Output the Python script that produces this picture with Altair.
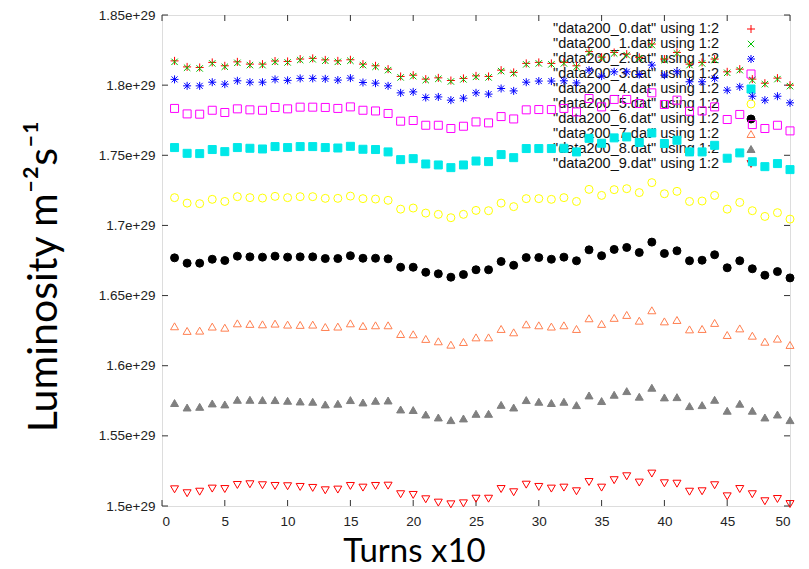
import altair as alt
import pandas as pd

TURNS = list(range(1, 51))

SERIES = ['"data200_0.dat" using 1:2', '"data200_1.dat" using 1:2', '"data200_2.dat" using 1:2',
          '"data200_3.dat" using 1:2', '"data200_4.dat" using 1:2', '"data200_5.dat" using 1:2',
          '"data200_6.dat" using 1:2', '"data200_7.dat" using 1:2', '"data200_8.dat" using 1:2',
          '"data200_9.dat" using 1:2']

# luminosity values in units of 1e29
S0 = [1.8173, 1.8130, 1.8126, 1.8162, 1.8138, 1.8166, 1.8150, 1.8150, 1.8172, 1.8169,
      1.8186, 1.8191, 1.8180, 1.8173, 1.8181, 1.8150, 1.8138, 1.8114, 1.8062, 1.8071,
      1.8043, 1.8052, 1.8033, 1.8048, 1.8066, 1.8062, 1.8107, 1.8091, 1.8155, 1.8162,
      1.8155, 1.8162, 1.8138, 1.8239, 1.8200, 1.8233, 1.8221, 1.8198, 1.8293, 1.8186,
      1.8233, 1.8150, 1.8162, 1.8186, 1.8095, 1.8114, 1.8043, 1.8014, 1.8050, 1.8000]
S1 = [1.8166, 1.8124, 1.8119, 1.8155, 1.8131, 1.8159, 1.8143, 1.8143, 1.8166, 1.8162,
      1.8179, 1.8184, 1.8174, 1.8166, 1.8174, 1.8143, 1.8131, 1.8107, 1.8055, 1.8064,
      1.8036, 1.8045, 1.8026, 1.8041, 1.8059, 1.8055, 1.8100, 1.8084, 1.8148, 1.8155,
      1.8148, 1.8155, 1.8131, 1.8232, 1.8193, 1.8226, 1.8214, 1.8191, 1.8286, 1.8179,
      1.8226, 1.8143, 1.8155, 1.8179, 1.8088, 1.8107, 1.8036, 1.8007, 1.8043, 1.7993]
S2 = [1.8041, 1.7995, 1.7995, 1.8021, 1.8007, 1.8031, 1.8021, 1.8021, 1.8041, 1.8034,
      1.8048, 1.8048, 1.8045, 1.8036, 1.8050, 1.8019, 1.8014, 1.7995, 1.7945, 1.7952,
      1.7912, 1.7916, 1.7893, 1.7907, 1.7945, 1.7936, 1.7976, 1.7959, 1.8021, 1.8029,
      1.8029, 1.8031, 1.8016, 1.8107, 1.8064, 1.8095, 1.8095, 1.8076, 1.8143, 1.8071,
      1.8095, 1.8024, 1.8024, 1.8048, 1.7964, 1.7988, 1.7921, 1.7893, 1.7921, 1.7874]
S3 = [1.7834, 1.7795, 1.7793, 1.7821, 1.7805, 1.7831, 1.7824, 1.7821, 1.7841, 1.7831,
      1.7843, 1.7843, 1.7841, 1.7834, 1.7845, 1.7821, 1.7816, 1.7798, 1.7743, 1.7748,
      1.7714, 1.7714, 1.7691, 1.7707, 1.7738, 1.7731, 1.7776, 1.7759, 1.7824, 1.7826,
      1.7826, 1.7834, 1.7809, 1.7905, 1.7845, 1.7898, 1.7898, 1.7869, 1.7945, 1.7862,
      1.7893, 1.7814, 1.7816, 1.7845, 1.7755, 1.7791, 1.7719, 1.7691, 1.7714, 1.7674]
S4 = [1.7555, 1.7514, 1.7512, 1.7541, 1.7526, 1.7555, 1.7550, 1.7545, 1.7562, 1.7555,
      1.7562, 1.7562, 1.7555, 1.7552, 1.7564, 1.7543, 1.7541, 1.7524, 1.7469, 1.7476,
      1.7438, 1.7431, 1.7412, 1.7431, 1.7459, 1.7455, 1.7505, 1.7483, 1.7548, 1.7548,
      1.7548, 1.7550, 1.7524, 1.7621, 1.7586, 1.7624, 1.7631, 1.7591, 1.7659, 1.7584,
      1.7607, 1.7524, 1.7524, 1.7571, 1.7479, 1.7517, 1.7454, 1.7419, 1.7441, 1.7398]
S5 = [1.7198, 1.7159, 1.7155, 1.7186, 1.7171, 1.7205, 1.7198, 1.7195, 1.7207, 1.7198,
      1.7205, 1.7205, 1.7193, 1.7193, 1.7209, 1.7191, 1.7188, 1.7179, 1.7116, 1.7124,
      1.7088, 1.7079, 1.7055, 1.7079, 1.7107, 1.7105, 1.7159, 1.7134, 1.7191, 1.7191,
      1.7186, 1.7198, 1.7171, 1.7257, 1.7214, 1.7255, 1.7262, 1.7234, 1.7305, 1.7226,
      1.7243, 1.7171, 1.7174, 1.7214, 1.7116, 1.7164, 1.7105, 1.7064, 1.7091, 1.7045]
S6 = [1.6769, 1.6731, 1.6731, 1.6759, 1.6750, 1.6781, 1.6776, 1.6774, 1.6781, 1.6774,
      1.6776, 1.6776, 1.6764, 1.6764, 1.6784, 1.6766, 1.6766, 1.6762, 1.6702, 1.6702,
      1.6666, 1.6655, 1.6631, 1.6650, 1.6684, 1.6684, 1.6743, 1.6716, 1.6771, 1.6771,
      1.6759, 1.6774, 1.6748, 1.6826, 1.6784, 1.6829, 1.6843, 1.6807, 1.6881, 1.6800,
      1.6819, 1.6748, 1.6752, 1.6791, 1.6698, 1.6748, 1.6691, 1.6645, 1.6671, 1.6626]
S7 = [1.6281, 1.6248, 1.6250, 1.6279, 1.6271, 1.6302, 1.6298, 1.6295, 1.6300, 1.6293,
      1.6291, 1.6293, 1.6276, 1.6279, 1.6302, 1.6284, 1.6288, 1.6288, 1.6226, 1.6224,
      1.6191, 1.6174, 1.6150, 1.6169, 1.6202, 1.6202, 1.6262, 1.6238, 1.6295, 1.6288,
      1.6279, 1.6288, 1.6262, 1.6338, 1.6298, 1.6341, 1.6362, 1.6321, 1.6395, 1.6316,
      1.6326, 1.6259, 1.6262, 1.6305, 1.6219, 1.6266, 1.6214, 1.6171, 1.6193, 1.6148]
S8 = [1.5734, 1.5702, 1.5707, 1.5731, 1.5724, 1.5757, 1.5757, 1.5755, 1.5755, 1.5750,
      1.5745, 1.5743, 1.5724, 1.5729, 1.5755, 1.5738, 1.5750, 1.5752, 1.5688, 1.5684,
      1.5652, 1.5631, 1.5612, 1.5624, 1.5657, 1.5657, 1.5721, 1.5702, 1.5755, 1.5743,
      1.5734, 1.5743, 1.5719, 1.5788, 1.5748, 1.5793, 1.5819, 1.5779, 1.5843, 1.5774,
      1.5776, 1.5712, 1.5719, 1.5757, 1.5679, 1.5729, 1.5679, 1.5631, 1.5652, 1.5612]
S9 = [1.5119, 1.5091, 1.5102, 1.5124, 1.5121, 1.5150, 1.5155, 1.5148, 1.5143, 1.5141,
      1.5136, 1.5129, 1.5112, 1.5117, 1.5143, 1.5131, 1.5143, 1.5145, 1.5084, 1.5079,
      1.5048, 1.5024, 1.5012, 1.5019, 1.5052, 1.5052, 1.5121, 1.5098, 1.5152, 1.5136,
      1.5124, 1.5131, 1.5105, 1.5171, 1.5131, 1.5184, 1.5212, 1.5167, 1.5231, 1.5162,
      1.5159, 1.5102, 1.5105, 1.5148, 1.5069, 1.5121, 1.5084, 1.5034, 1.5050, 1.5014]

X_TICKS = [0, 5, 10, 15, 20, 25, 30, 35, 40, 45, 50]
Y_TICKS = [1.5, 1.55, 1.6, 1.65, 1.7, 1.75, 1.8, 1.85]

COLORS = ["#ff0000", "#00c000", "#0000ff", "#ff00ff", "#00e8e8",
          "#ffff00", "#000000", "#ff7f50", "#808080", "#ff0000"]
FILLS = ["transparent", "transparent", "transparent", "transparent", "#00e8e8",
         "transparent", "#000000", "transparent", "#808080", "transparent"]
SHAPES = ["M-1,0L1,0M0,-1L0,1",
          "M-0.8,-0.8L0.8,0.8M-0.8,0.8L0.8,-0.8",
          "M-1,0L1,0M0,-1L0,1M-0.75,-0.75L0.75,0.75M-0.75,0.75L0.75,-0.75",
          "square", "square", "circle", "circle",
          "triangle-up", "triangle-up", "triangle-down"]

W, H = 628, 491

rows = []
for name, vals in zip(SERIES, [S0, S1, S2, S3, S4, S5, S6, S7, S8, S9]):
    for t, v in zip(TURNS, vals):
        rows.append({"series": name, "turn": t, "lum": v})
df = pd.DataFrame(rows)
key_df = pd.DataFrame({"series": SERIES})

xscale = alt.Scale(domain=[0, 50], nice=False, zero=False)
yscale = alt.Scale(domain=[1.5, 1.85], nice=False, zero=False)
shape_enc = alt.Shape("series:N", scale=alt.Scale(domain=SERIES, range=SHAPES), legend=None)
stroke_enc = alt.Stroke("series:N", scale=alt.Scale(domain=SERIES, range=COLORS), legend=None)
fill_enc = alt.Fill("series:N", scale=alt.Scale(domain=SERIES, range=FILLS), legend=None)

xaxis = alt.Axis(values=X_TICKS, title="Turns x10", ticks=False, domain=False, grid=False,
                 labelFont="Liberation Sans", labelFontSize=13.5, labelColor="#222",
                 labelPadding=8, titleFont="Lato", titleFontSize=33,
                 titleFontWeight="normal", titleColor="#000",
                 titleX=252, titleY=55, titleAlign="center", titleBaseline="alphabetic")
yaxis = alt.Axis(values=Y_TICKS, title="Luminosity m\u207b\u00b2s\u207b\u00b9",
                 ticks=False, domain=False, grid=False,
                 labelExpr="format(datum.value, '~g') + 'e+29'",
                 labelFont="Liberation Sans", labelFontSize=13.5, labelColor="#222",
                 labelPadding=7, titleFont="Lato", titleFontSize=41,
                 titleFontWeight="normal", titleColor="#000", titleAngle=270,
                 titleX=-106, titleY=261, titleAlign="center", titleBaseline="alphabetic")

points = alt.Chart(df).mark_point(size=64, strokeWidth=1, opacity=1).encode(
    x=alt.X("turn:Q", scale=xscale, axis=xaxis),
    y=alt.Y("lum:Q", scale=yscale, axis=yaxis),
    shape=shape_enc, stroke=stroke_enc, fill=fill_enc,
)

xt = pd.DataFrame({"turn": X_TICKS})
yt = pd.DataFrame({"lum": Y_TICKS})
tick_style = dict(color="#333", strokeWidth=1)

xb = alt.Chart(xt).mark_rule(**tick_style).encode(
    x=alt.X("turn:Q", scale=xscale, axis=xaxis), y=alt.value(H - 6), y2=alt.value(H))
xtop = alt.Chart(xt).mark_rule(**tick_style).encode(
    x=alt.X("turn:Q", scale=xscale, axis=xaxis), y=alt.value(0), y2=alt.value(6))
yl = alt.Chart(yt).mark_rule(**tick_style).encode(
    y=alt.Y("lum:Q", scale=yscale, axis=yaxis), x=alt.value(0), x2=alt.value(6))
yr = alt.Chart(yt).mark_rule(**tick_style).encode(
    y=alt.Y("lum:Q", scale=yscale, axis=yaxis), x=alt.value(W - 6), x2=alt.value(W))

# gnuplot-style key: right-aligned text followed by the symbol
key_y = alt.Y("series:N", scale=alt.Scale(domain=SERIES, range=[14, 149], padding=0), axis=None)
key_text = alt.Chart(key_df).mark_text(
    align="right", baseline="middle", font="Liberation Sans", fontSize=14.5, color="#111"
).encode(y=key_y, x=alt.value(557), text="series:N")
key_sym = alt.Chart(key_df).mark_point(size=64, strokeWidth=1, opacity=1).encode(
    y=key_y, x=alt.value(589), shape=shape_enc, stroke=stroke_enc, fill=fill_enc)
key = alt.layer(key_text, key_sym)

plot = alt.layer(xb, xtop, yl, yr, points)

chart = alt.layer(key, plot).resolve_scale(y="independent").properties(
    width=W, height=H,
    autosize=alt.AutoSizeParams(type="none"),
    padding={"left": 154, "top": 7, "right": 11, "bottom": 62},
).configure_view(stroke="#333", strokeWidth=1.5).configure(background="white")

chart.save("out.html", embed_options={"renderer": "svg", "actions": False})
